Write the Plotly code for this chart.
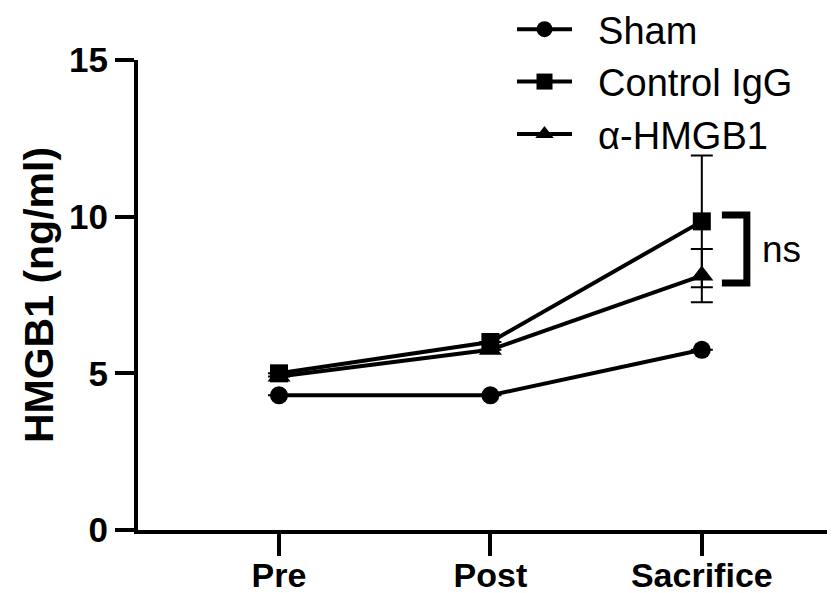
import plotly.graph_objects as go

categories = ["Pre", "Post", "Sacrifice"]
sham = [4.3, 4.3, 5.75]
sham_err = [0, 0, 0]
control_igg = [5.0, 6.0, 9.85]
control_err = [0, 0, 2.1]
anti_hmgb1 = [4.9, 5.75, 8.12]
anti_err = [0, 0, 0.85]
y_ticks = [0, 5, 10, 15]
bracket_y = [10.05, 7.88]
bracket_label = "ns"

FONT = "Liberation Sans, Arial, sans-serif"
BLACK = "#000000"
NBSP = "\u00a0\u00a0"
xpos = list(range(len(categories)))

# the page body has an 8px margin, so the figure is drawn 8px smaller
W, H = 827, 585

fig = go.Figure()

def add(name, vals, errs, symbol, size, rank):
    fig.add_trace(go.Scatter(
        x=xpos, y=vals, name=NBSP + name, mode="lines+markers", legendrank=rank,
        line=dict(color=BLACK, width=4),
        marker=dict(symbol=symbol, size=size, color=BLACK),
        error_y=dict(type="data", array=errs, visible=True, color=BLACK,
                     thickness=2, width=11),
    ))

add("Sham", sham, sham_err, "circle", 18, 1)
add("α-HMGB1", anti_hmgb1, anti_err, "triangle-up", 20, 3)
add("Control IgG", control_igg, control_err, "square", 18, 2)

# significance bracket between Control IgG and α-HMGB1 at Sacrifice
sx = xpos[-1]
fig.add_shape(type="path", xref="x", yref="y",
              path=f"M {sx+0.095},{bracket_y[0]} L {sx+0.213},{bracket_y[0]} "
                   f"L {sx+0.213},{bracket_y[1]} L {sx+0.095},{bracket_y[1]}",
              line=dict(color=BLACK, width=7))
fig.add_annotation(x=sx + 0.375, y=sum(bracket_y) / 2, text=bracket_label,
                   showarrow=False, font=dict(family=FONT, size=37, color=BLACK))

fig.update_layout(
    width=W, height=H,
    margin=dict(l=130, r=0, t=52, b=63, autoexpand=False),
    plot_bgcolor="white", paper_bgcolor="white",
    font=dict(family=FONT, color=BLACK),
    legend=dict(x=504 / W, xanchor="left", xref="container",
                y=1.132, yanchor="top", yref="paper",
                font=dict(family=FONT, size=38, color=BLACK),
                traceorder="normal", itemwidth=55,
                bgcolor="rgba(0,0,0,0)", tracegroupgap=0),
    showlegend=True,
)
fig.update_xaxes(
    range=[-0.667, 2.63], tickmode="array", tickvals=xpos, ticktext=categories,
    showline=True, linecolor=BLACK, linewidth=4, showgrid=False, zeroline=False,
    ticks="outside", ticklen=22, tickwidth=4, tickcolor=BLACK, automargin=False,
    ticklabelstandoff=-10,
    tickfont=dict(family=FONT, size=34, color=BLACK, weight="bold"),
)
fig.update_yaxes(
    range=[0, 15], tickvals=y_ticks, showline=True, linecolor=BLACK, linewidth=4,
    showgrid=False, zeroline=False, ticks="outside", ticklen=19, tickwidth=4,
    tickcolor=BLACK, automargin=False,
    tickfont=dict(family=FONT, size=35, color=BLACK, weight="bold"),
    title=dict(text="HMGB1 (ng/ml)", standoff=4,
               font=dict(family=FONT, size=41, color=BLACK, weight="bold")),
)

fig.write_html("out.html")
